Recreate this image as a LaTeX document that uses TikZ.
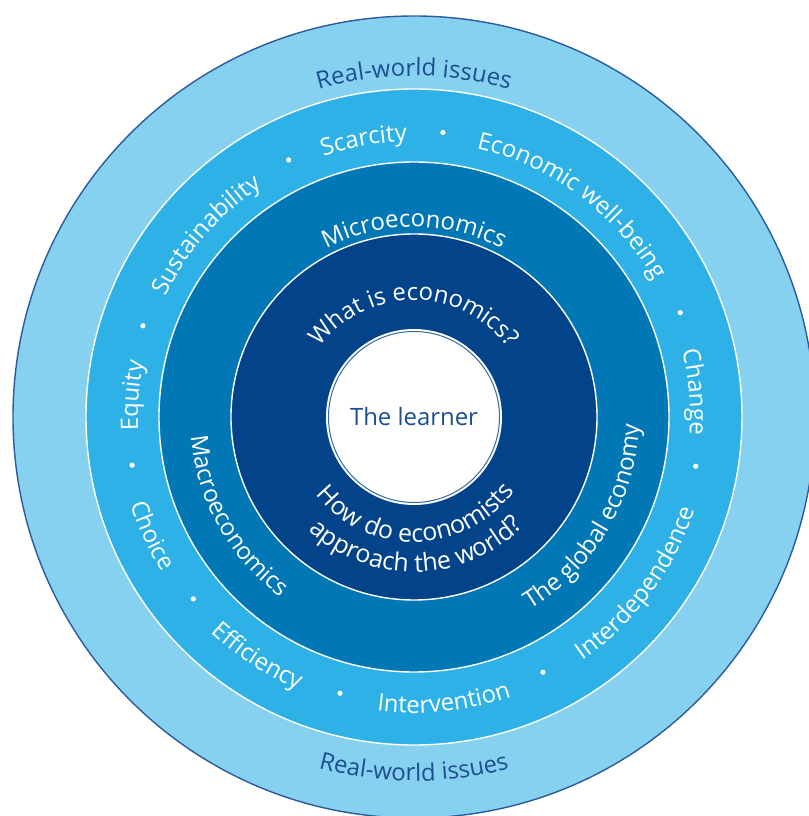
\documentclass[tikz,border=0pt]{standalone}
\usepackage{fontspec}
\setmainfont{Open Sans}
\usetikzlibrary{decorations.text}
\definecolor{ringA}{HTML}{86D0F0}
\definecolor{ringB}{HTML}{2EB1E7}
\definecolor{ringC}{HTML}{0177B5}
\definecolor{ringD}{HTML}{02438A}
\definecolor{edgeblue}{HTML}{2B5B9B}
\definecolor{darktext}{HTML}{1D4F8F}
\newcommand\ringfont{\fontsize{24}{29}\selectfont}
\newcommand\bigringfont{\fontsize{25}{30}\selectfont}
\newcommand\cwText[4]{\path[decorate,decoration={text along path,text align=center,text color=#3,text={|\ringfont|#4}}] ({#2+85}:#1bp) arc[start angle={#2+85},end angle={#2-85},radius=#1bp];}
\newcommand\ccwText[4]{\path[decorate,decoration={text along path,text align=center,text color=#3,text={|\ringfont|#4}}] ({#2-85}:#1bp) arc[start angle={#2-85},end angle={#2+85},radius=#1bp];}
\newcommand\ccwTextBig[4]{\path[decorate,decoration={text along path,text align=center,text color=#3,text={|\bigringfont|#4}}] ({#2-85}:#1bp) arc[start angle={#2-85},end angle={#2+85},radius=#1bp];}
\tikzset{
  ringline/.style={draw=white,line width=1.4bp},
  dotmark/.style={fill=white}
}
\begin{document}
\begin{tikzpicture}[x=1bp,y=1bp]
\useasboundingbox (-414,-399) rectangle (395,417);
\clip (-414,-399) rectangle (395,417);
% rings
\fill[ringA,draw=edgeblue,line width=1.4bp] (0,0) circle[radius=401bp];
\fill[ringB,ringline] (0,0) circle[radius=328bp];
\fill[ringC,ringline] (0,0) circle[radius=255bp];
\fill[ringD,ringline] (0,0) circle[radius=183bp];
\fill[white] (0,0) circle[radius=88bp];
\draw[ringD!80!white,line width=1bp] (0,0) circle[radius=85.5bp];
\node[text=darktext,font=\fontsize{24}{29}\selectfont,inner sep=0pt] (learner) at (0,0) {The learner};
% outer ring
\cwText{341}{90}{darktext}{Real-world issues}
\ccwText{364}{270}{darktext}{Real-world issues}
% second ring
\cwText{276}{100.3}{white}{Scarcity}
\cwText{276}{53.3}{white}{Economic well-being}
\cwText{276}{5.1}{white}{Change}
\cwText{276}{175.7}{white}{Equity}
\cwText{276}{138.8}{white}{Sustainability}
\ccwText{296}{323.3}{white}{Interdependence}
\ccwText{296}{276}{white}{Intervention}
\ccwText{296}{236.8}{white}{Efficiency}
\ccwText{296}{204.4}{white}{Choice}
\foreach \a in {84.2,116,161.4,189.7,219.5,255,296.8,350.1,21.4}
  \fill[dotmark] (\a:286bp) circle[radius=2.6bp];
% third ring
\cwText{190}{90}{white}{Microeconomics}
\ccwText{224}{209.3}{white}{Macroeconomics}
\ccwText{225}{329.6}{white}{The global economy}
% inner ring
\cwText{117}{90}{white}{What is economics?}
\ccwTextBig{125}{271}{white}{How do economists}
\ccwTextBig{155}{271}{white}{approach the world?}
\end{tikzpicture}
\end{document}
